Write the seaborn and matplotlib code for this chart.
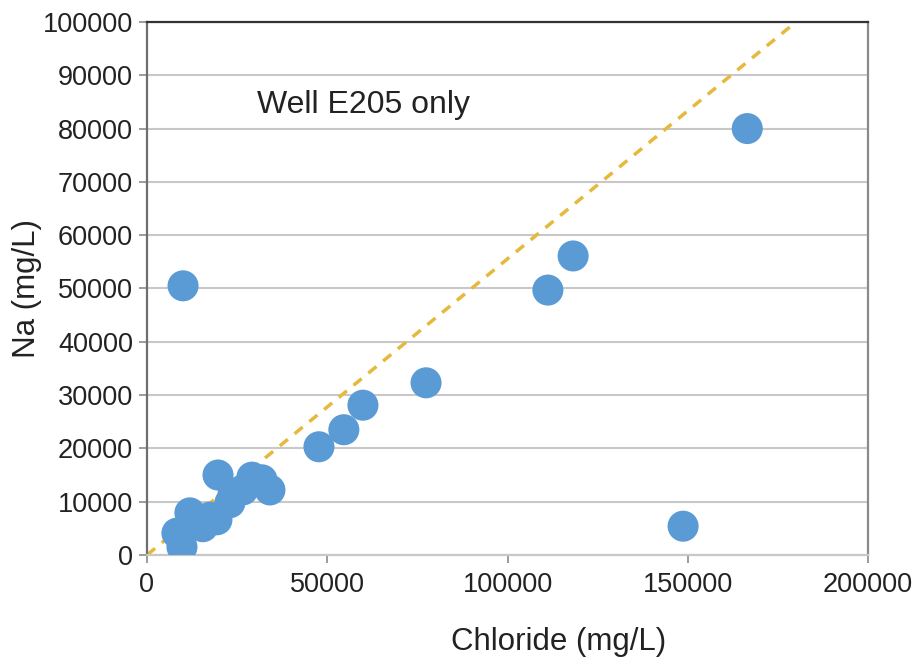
import numpy as np
import pandas as pd
import seaborn as sns
import matplotlib.pyplot as plt

# Well E205 sample values
chloride = [166500, 118200, 111200, 10000, 77400, 59900, 54600, 47700, 148700,
            19700, 29100, 34100, 31900, 23900, 23000, 26600, 17500, 13900,
            11900, 8300, 9700, 15500, 19400]
sodium = [80000, 56100, 49700, 50500, 32300, 28100, 23500, 20300, 5400,
          15000, 14600, 12200, 14100, 11600, 9800, 12200, 7100, 6600,
          7900, 4100, 1500, 5300, 6600]

# reference ratio line (seawater Na/Cl)
line_x = [0, 180000]
line_y = [0, 100000]

df = pd.DataFrame({"Chloride (mg/L)": chloride, "Na (mg/L)": sodium})

sns.set_style("white")
plt.rcParams["font.family"] = ["Liberation Sans", "DejaVu Sans"]

fig = plt.figure(figsize=(9.17, 6.64), dpi=100)
ax = fig.add_axes([0.1603, 0.1642, 0.7863, 0.8027])

ax.set_ylim(0, 100000)
ax.set_xlim(0, 200000)
ax.set_yticks(np.arange(0, 100001, 10000))
ax.set_xticks(np.arange(0, 200001, 50000))
ax.grid(axis="y", color="#c8c8c8", lw=1.5, zorder=0)
ax.set_axisbelow(True)

sns.lineplot(x=line_x, y=line_y, ax=ax, color="#e6b93c", lw=2.5,
             linestyle=(0, (3, 2.5)), zorder=2)
sns.scatterplot(data=df, x="Chloride (mg/L)", y="Na (mg/L)", ax=ax,
                s=500, color="#5b9bd5", edgecolor="none", zorder=3)

ax.text(30500, 84400, "Well E205 only", fontsize=23, va="center", ha="left",
        color="#222222")

for side, c in [("left", "#6e6e6e"), ("top", "#333333"),
                ("right", "#8a8a8a"), ("bottom", "#c8c8c8")]:
    ax.spines[side].set_color(c)
    ax.spines[side].set_linewidth(1.6)

ax.tick_params(axis="both", labelsize=19.5, colors="#222222", length=6,
               width=1.2, color="#8a8a8a", pad=6)
ax.tick_params(axis="y", left=True, pad=4)
ax.tick_params(axis="x", bottom=True)
ax.set_xlabel("Chloride (mg/L)", fontsize=22.5, color="#222222")
ax.set_ylabel("Na (mg/L)", fontsize=22.5, color="#222222")
ax.xaxis.set_label_coords(0.571, -0.135)
ax.yaxis.set_label_coords(-0.146, 0.5)

fig.savefig("out.png", dpi=100)
